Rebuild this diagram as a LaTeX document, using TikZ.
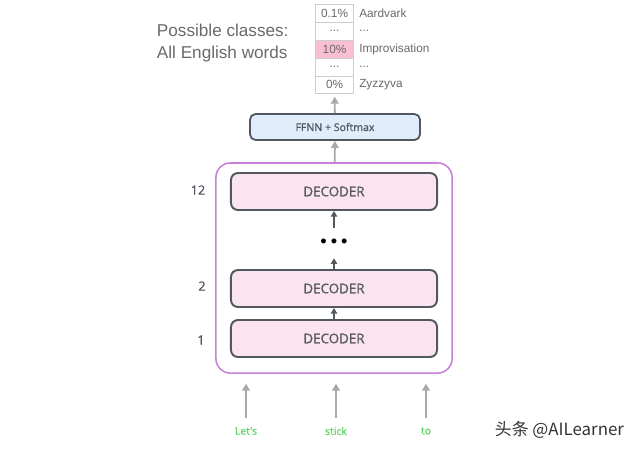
\documentclass[tikz,border=0pt]{standalone}
\usepackage{fontspec}
\setmainfont{Liberation Sans}
\newfontfamily\opensans{Open Sans}[FakeBold=1.0]
\newfontfamily\cjkfont{Noto Sans CJK SC}
\usetikzlibrary{matrix,arrows.meta}

\definecolor{decpink}{RGB}{252,228,238}
\definecolor{cellpink}{RGB}{248,190,212}
\definecolor{ffnnblue}{RGB}{224,238,252}
\definecolor{edgegray}{RGB}{82,88,96}
\definecolor{stackpurple}{RGB}{200,128,216}
\definecolor{arrowgray}{RGB}{168,170,170}
\definecolor{cellgray}{RGB}{205,205,205}
\definecolor{textgray}{RGB}{105,105,105}
\definecolor{wordgreen}{RGB}{95,212,95}

\begin{document}
\begin{tikzpicture}[x=0.025cm, y=-0.025cm,
    decoder/.style={draw=edgegray, fill=decpink, line width=1.4pt, rounded corners=5pt,
        minimum width=5.15cm, minimum height=0.925cm,
        font=\opensans\fontsize{9.5}{11}\selectfont, text=edgegray},
    ffnn/.style={draw=edgegray, fill=ffnnblue, line width=1.3pt, rounded corners=4pt,
        minimum width=4.25cm, minimum height=0.65cm,
        font=\opensans\fontsize{7.5}{9}\selectfont, text=edgegray},
    stack/.style={draw=stackpurple, line width=1.1pt, rounded corners=10pt,
        minimum width=5.9cm, minimum height=5.25cm},
    layernum/.style={font=\opensans\fontsize{9}{11}\selectfont, text=edgegray},
    word/.style={font=\opensans\fontsize{7.4}{9}\selectfont, text=wordgreen},
    grayarrow/.style={draw=arrowgray, line width=1.3pt, -{Triangle[width=5.5pt,length=5pt]}},
    darkarrow/.style={draw=edgegray, line width=1.3pt, -{Triangle[width=4.5pt,length=4pt]}}
]
\useasboundingbox (0,0) rectangle (640,450);

% output distribution
\matrix (classes) at (315,4) [
    matrix of nodes,
    anchor=north west,
    inner sep=0pt,
    nodes={anchor=west, font=\fontsize{8.4}{10}\selectfont, text=textgray},
    column 1/.style={nodes={draw=cellgray, minimum width=0.95cm, minimum height=0.445cm}},
    column 2/.style={nodes={inner sep=1pt}},
    column sep=0.1cm,
    row sep=-\pgflinewidth
] {
    0.1\% & Aardvark \\
    ... & ... \\
    |[fill=cellpink]| 10\% & Improvisation \\
    ... & ... \\
    0\% & Zyzzyva \\
};
\node[anchor=west, align=left, text=textgray, font=\fontsize{12.2}{15.6}\selectfont]
    (classtext) at (152,43) {Possible classes:\\All English words};

% model
\node[ffnn] (ffnn) at (335,127) {FFNN + Softmax};
\node[stack] (stack) at (334,268) {};
\node[decoder] (dec12) at (334,191.5) {DECODER};
\node[minimum height=0.75cm, inner sep=0pt, font=\fontsize{13}{14}\selectfont] (dots) at (334,243)
    {\textbullet\hspace{2.8pt}\textbullet\hspace{2.8pt}\textbullet};
\node[decoder] (dec2) at (334,288.5) {DECODER};
\node[decoder] (dec1) at (334,338.5) {DECODER};

\node[layernum] (n12) at (198,190) {12};
\node[layernum] (n2) at (202,286) {2};
\node[layernum] (n1) at (201,340) {1};

\draw[darkarrow] (dec1) -- (dec2);
\draw[darkarrow] (dec2) -- (dots);
\draw[darkarrow] (dots) -- (dec12);
\draw[grayarrow] (stack) -- (ffnn);
\draw[grayarrow, shorten >=2pt] (ffnn) -- (classes-5-1);

% inputs
\node[word] (lets) at (246,431) {Let's};
\node[word] (stick) at (336,431) {stick};
\node[word] (to) at (426,431) {to};
\foreach \w in {lets,stick,to}
    \draw[grayarrow, shorten <=3pt, shorten >=7pt] (\w) -- (\w |- stack.south);

\node[anchor=west, text=black!80, font=\fontsize{12}{14}\selectfont] (mark) at (490,430)
    {\cjkfont 头条 @AILearner};
\end{tikzpicture}
\end{document}
